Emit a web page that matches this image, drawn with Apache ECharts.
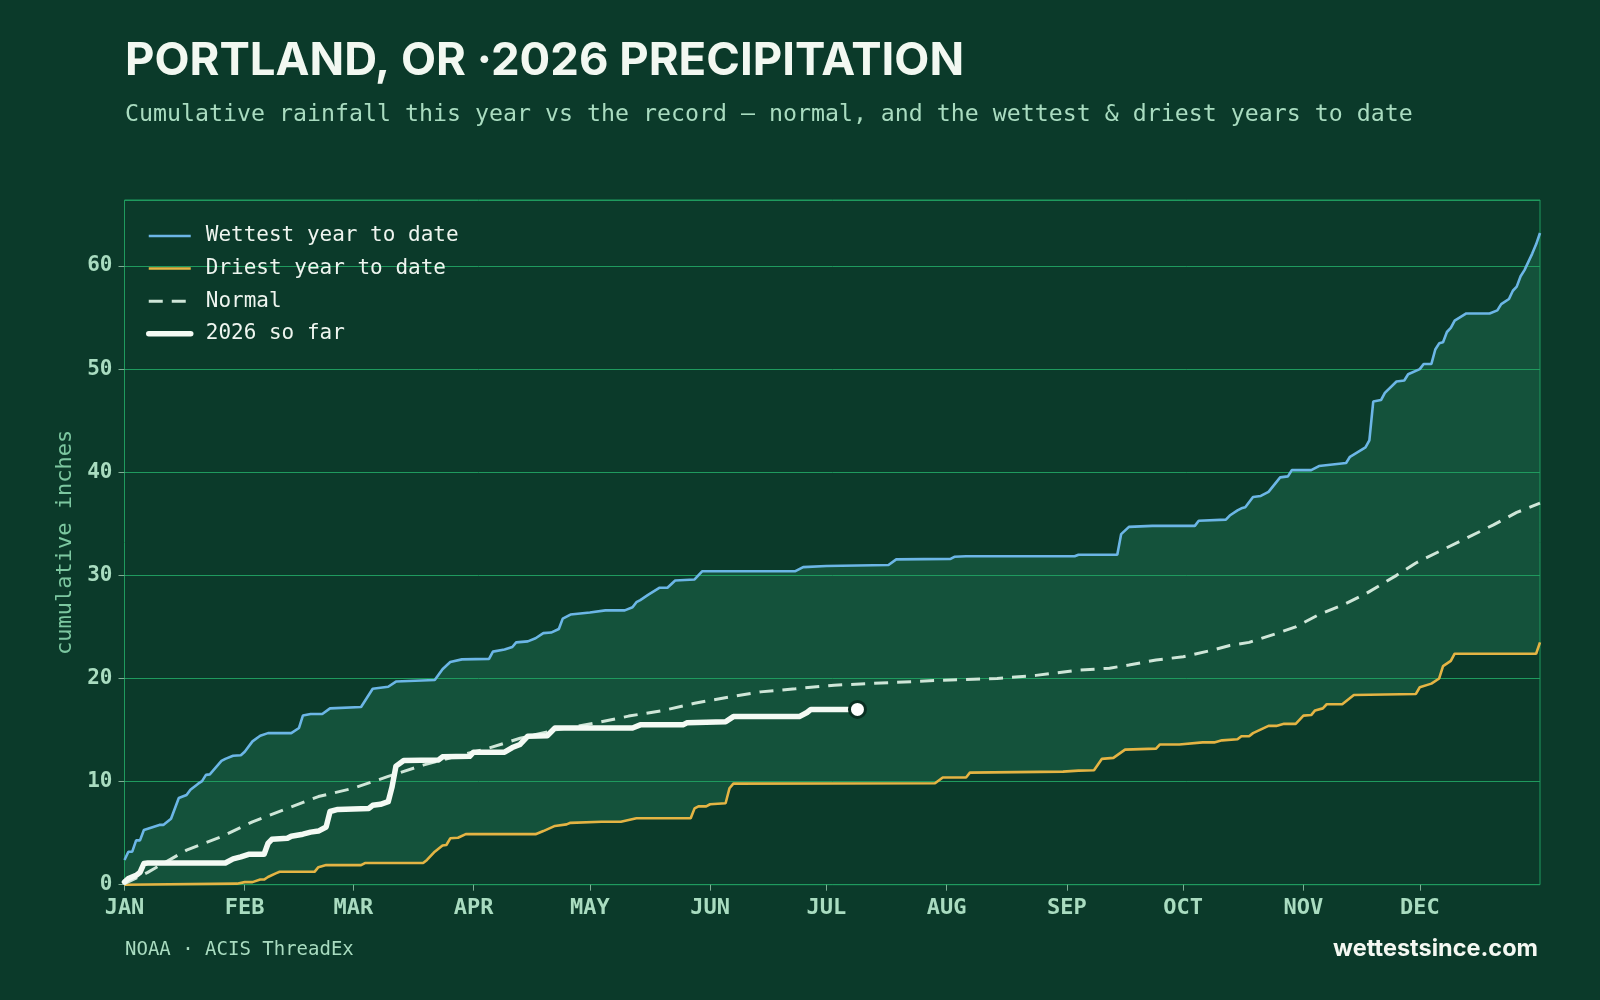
<!DOCTYPE html>
<html>
<head>
<meta charset="utf-8">
<script src="https://cdn.jsdelivr.net/npm/echarts@6/dist/echarts.min.js"></script>
<style>
  html, body { margin: 0; padding: 0; background: #0b3a2a; }
  #chart { width: 1600px; height: 1000px; }
</style>
</head>
<body>
<div id="chart"></div>
<script>
// day of year (0 = Jan 1), cumulative inches
var wettest = [
  [0,2.4],[1,3.2],[2,3.2],[3,4.3],[4,4.3],[5,5.3],[7,5.55],[9,5.8],[10,5.8],[12,6.4],[14,8.4],[16,8.7],
  [17,9.2],[19,9.8],[20,10.05],[21,10.65],[22,10.7],[25,12.0],[26,12.2],[28,12.5],[30,12.55],[31,12.9],
  [33,13.9],[35,14.45],[37,14.7],[43,14.7],[45,15.2],[46,16.4],[48,16.55],[51,16.55],[53,17.1],[61,17.24],
  [64,19.0],[68,19.2],[70,19.7],[80,19.85],[82,20.9],[84,21.6],[87,21.85],[94,21.9],[95,22.6],[98,22.8],
  [100,23.05],[101,23.5],[104,23.6],[106,23.9],[108,24.4],[110,24.45],[112,24.8],[113,25.8],[115,26.2],
  [120,26.4],[124,26.6],[129,26.6],[131,26.9],[132,27.4],[133,27.6],[135,28.1],[138,28.8],[140,28.8],
  [142,29.5],[147,29.6],[149,30.4],[173,30.4],[175,30.8],[181,30.9],[197,31.0],[199,31.55],[213,31.6],
  [214,31.8],[217,31.85],[245,31.85],[246,32.0],[256,32.0],[257,34.0],[259,34.7],[265,34.8],[276,34.8],
  [277,35.3],[284,35.4],[285,35.8],[287,36.3],[288,36.5],[289,36.6],[291,37.6],[293,37.7],[295,38.1],
  [298,39.5],[300,39.6],[301,40.2],[306,40.2],[308,40.6],[315,40.9],[316,41.5],[320,42.4],[321,43.1],
  [322,46.85],[324,47.0],[325,47.7],[328,48.8],[330,48.9],[331,49.5],[334,50.0],[335,50.5],[337,50.5],
  [338,51.9],[339,52.5],[340,52.6],[341,53.6],[342,54.0],[343,54.7],[346,55.4],[352,55.4],[354,55.7],
  [355,56.3],[357,56.8],[358,57.6],[359,58.0],[360,59.0],[361,59.6],[363,61.2],[364,62.1],[365,63.2]
];
var driest = [
  [0,0],[29,0.1],[31,0.25],[33,0.25],[35,0.5],[36,0.5],[37,0.75],[39,1.1],[40,1.25],[49,1.25],[50,1.7],
  [52,1.9],[61,1.9],[62,2.1],[77,2.1],[78,2.4],[80,3.2],[82,3.8],[83,3.85],[84,4.5],[86,4.55],[88,4.9],
  [106,4.9],[108,5.2],[111,5.7],[114,5.85],[115,6.0],[123,6.1],[128,6.1],[132,6.45],[146,6.45],[147,7.4],
  [148,7.6],[150,7.6],[151,7.8],[155,7.9],[156,9.35],[157,9.8],[209,9.84],[211,10.4],[217,10.4],
  [218,10.87],[242,10.97],[246,11.06],[250,11.1],[252,12.2],[255,12.3],[258,13.1],[266,13.2],[267,13.6],
  [272,13.6],[278,13.8],[281,13.8],[283,14.0],[287,14.1],[288,14.4],[290,14.4],[291,14.7],[295,15.4],
  [297,15.4],[299,15.6],[302,15.6],[304,16.4],[306,16.45],[307,16.9],[309,17.1],[310,17.5],[314,17.5],
  [317,18.4],[333,18.5],[334,19.15],[337,19.5],[339,20.0],[340,21.2],[342,21.7],[343,22.4],[364,22.4],
  [365,23.5]
];
var normal = [
  [0,0.1],[6,1.2],[16,3.35],[25,4.65],[33,6.1],[42,7.4],[50,8.55],[59,9.35],[68,10.5],[77,11.6],[85,12.4],
  [94,13.25],[102,14.2],[111,15.0],[121,15.65],[130,16.35],[139,16.9],[147,17.6],[156,18.2],[164,18.7],
  [173,19.0],[183,19.35],[209,19.8],[225,20.0],[235,20.3],[246,20.8],[254,21.0],[259,21.3],[266,21.8],
  [273,22.1],[280,22.7],[285,23.2],[290,23.5],[297,24.35],[302,25.0],[308,26.2],[314,27.1],[320,28.2],
  [328,30.0],[333,31.2],[340,32.5],[346,33.6],[353,34.9],[359,36.1],[365,37.0]
];
var year2026 = [
  [0,0.26],[1,0.6],[3,0.9],[4,1.2],[5,2.05],[6,2.1],[26,2.1],[28,2.5],[30,2.7],[32,2.95],[36,2.95],
  [37,4.0],[38,4.4],[42,4.5],[43,4.7],[46,4.9],[48,5.1],[50,5.2],[52,5.6],[53,7.1],[55,7.3],[63,7.4],
  [64,7.7],[66,7.8],[68,8.05],[69,9.5],[70,11.5],[72,12.05],[81,12.1],[82,12.4],[89,12.45],[90,12.85],
  [98,12.85],[100,13.3],[102,13.6],[104,14.4],[109,14.45],[111,15.2],[131,15.2],[133,15.5],[144,15.5],
  [145,15.7],[155,15.8],[157,16.3],[174,16.3],[176,16.7],[177,17.0],[189,17.0]
];
var monthStarts = [0,31,59,90,120,151,181,212,243,273,304,334];
var monthNames = ['JAN','FEB','MAR','APR','MAY','JUN','JUL','AUG','SEP','OCT','NOV','DEC'];
var yTicks = [0,10,20,30,40,50,60];

var mono = 'DejaVu Sans Mono';
var labelColor = '#a9dcc0';
var gridGreen = '#1f9a5e';

var option = {
    backgroundColor: '#0b3a2a',
    animation: false,
    title: [
        {
            text: 'PORTLAND, OR \u00b72026 PRECIPITATION',
            left: 125, top: 38, padding: 0,
            textStyle: { color: '#f2f8f1', fontFamily: 'Inter', fontWeight: 'bold', fontSize: 45.5 }
        },
        {
            text: 'Cumulative rainfall this year vs the record \u2014 normal, and the wettest & driest years to date',
            left: 125, top: 103, padding: 0,
            textStyle: { color: labelColor, fontFamily: mono, fontWeight: 'normal', fontSize: 23.25 }
        }
    ],
    graphic: [
        { type: 'text', left: 125, top: 941,
          style: { text: 'NOAA \u00b7 ACIS ThreadEx', fill: labelColor, font: '19px "DejaVu Sans Mono"' } },
        { type: 'text', right: 62, top: 937,
          style: { text: 'wettestsince.com', fill: '#f4f8f2', font: 'bold 23.5px Inter' } }
    ],
    legend: {
        orient: 'vertical',
        left: 146, top: 225, padding: 0,
        itemWidth: 42, itemHeight: 14, itemGap: 10.6,
        itemStyle: { opacity: 0 },
        data: [
            { name: 'Wettest year to date', lineStyle: { width: 2.5 } },
            { name: 'Driest year to date', lineStyle: { width: 2.5 } },
            { name: 'Normal', lineStyle: { width: 3 } },
            { name: '2026 so far', lineStyle: { width: 5.5 } }
        ],
        textStyle: { color: '#eef5ef', fontFamily: mono, fontSize: 21, lineHeight: 22, padding: [0, 0, 0, 10] }
    },
    grid: {
        left: 124.5, right: 60, top: 200, bottom: 115.3,
        show: true, borderColor: gridGreen, borderWidth: 1, backgroundColor: 'transparent'
    },
    xAxis: {
        type: 'value', min: 0, max: 365,
        axisLine: { show: false },
        splitLine: { show: false },
        axisTick: { show: true, length: 6, lineStyle: { color: '#7fae95' }, customValues: monthStarts },
        axisLabel: {
            customValues: monthStarts,
            formatter: function (v) { return monthNames[monthStarts.indexOf(v)] || ''; },
            color: labelColor, fontFamily: mono, fontWeight: 'bold', fontSize: 22, margin: 13
        }
    },
    yAxis: {
        type: 'value', min: 0, max: 66.4, interval: 10,
        name: 'cumulative inches', nameLocation: 'middle', nameGap: 42, nameRotate: 90,
        nameTextStyle: { color: '#7cc7a0', fontFamily: mono, fontSize: 22 },
        axisLine: { show: false },
        axisTick: { show: true, length: 6, lineStyle: { color: '#7fae95' } },
        splitLine: { lineStyle: { color: gridGreen, width: 1 } },
        axisLabel: {
            showMaxLabel: false,
            formatter: function (v) { return yTicks.indexOf(v) >= 0 ? String(v) : ''; },
            color: labelColor, fontFamily: mono, fontWeight: 'bold', fontSize: 21, margin: 12
        }
    },
    series: [
        {
            name: 'band', type: 'custom', z: -1, silent: true,
            data: [[0, 0]],
            renderItem: function (params, api) {
                var pts = wettest.map(function (p) { return api.coord(p); });
                for (var i = driest.length - 1; i >= 0; i--) pts.push(api.coord(driest[i]));
                return { type: 'polygon', shape: { points: pts }, style: { fill: '#14523b' } };
            }
        },
        {
            name: 'Wettest year to date', type: 'line', data: wettest, symbol: 'none',
            lineStyle: { color: '#6cb6e6', width: 2.6 }, itemStyle: { color: '#6cb6e6' }
        },
        {
            name: 'Driest year to date', type: 'line', data: driest, symbol: 'none',
            lineStyle: { color: '#e4b444', width: 2.6 }, itemStyle: { color: '#e4b444' }
        },
        {
            name: 'Normal', type: 'line', data: normal, symbol: 'none',
            lineStyle: { color: '#cfe6d8', width: 3, type: [14, 9] }, itemStyle: { color: '#cfe6d8' }
        },
        {
            name: '2026 so far', type: 'line', data: year2026, symbol: 'none',
            lineStyle: { color: '#f4faf4', width: 5.5, cap: 'round', join: 'round' }, itemStyle: { color: '#f4faf4' }
        },
        {
            name: 'today', type: 'scatter', data: [year2026[year2026.length - 1]],
            symbolSize: 16, z: 5,
            itemStyle: { color: '#ffffff', borderColor: '#0a2f22', borderWidth: 3, opacity: 1 }
        }
    ]
};

var myChart = echarts.init(document.getElementById('chart'));
myChart.setOption(option);
</script>
</body>
</html>
